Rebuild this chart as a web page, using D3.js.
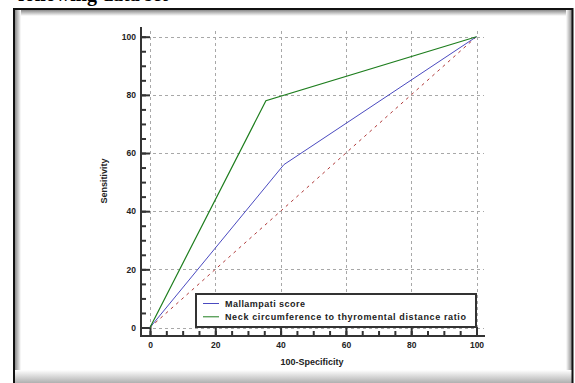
<!DOCTYPE html>
<html><head><meta charset="utf-8">
<script src="https://cdn.jsdelivr.net/npm/d3@7"></script>
<style>body{margin:0;background:#fff;}svg{display:block;}</style>
</head><body>
<svg id="c" width="575" height="383"></svg>
<script>
const mallX = [0, 41, 100];
const mallY = [0, 56, 100];
const neckX = [0, 35.5, 100];
const neckY = [0, 78, 100];
const refX = [0, 100];
const refY = [0, 100];
const majorTicks = [0, 20, 40, 60, 80, 100];
const minorTicks = d3.range(0, 101, 5);
const seriesNames = ["Mallampati score", "Neck circumference to thyromental distance ratio"];
const xTitle = "100-Specificity";
const yTitle = "Sensitivity";
const headText = "following data set";

const svg = d3.select("#c");
const defs = svg.append("defs");
function grad(id, x1, y1, x2, y2, c1, c2) {
  const g = defs.append("linearGradient").attr("id", id)
    .attr("x1", x1).attr("y1", y1).attr("x2", x2).attr("y2", y2);
  g.append("stop").attr("offset", "0").attr("stop-color", c1);
  g.append("stop").attr("offset", "1").attr("stop-color", c2);
}
grad("gt", 0, 0, 0, 1, "#8a8a8a", "#ffffff");
grad("gl", 0, 0, 1, 0, "#8a8a8a", "#ffffff");
grad("gr", 1, 0, 0, 0, "#8a8a8a", "#ffffff");
grad("gb", 0, 1, 0, 0, "#b0b0b0", "#ffffff");

// header text (cut off at the top edge, as in the source image)
svg.append("text").attr("x", 18).attr("y", 0.5)
  .attr("font-family", "Liberation Serif, Times New Roman, serif")
  .attr("font-weight", "bold").attr("font-size", 20)
  .attr("fill", "#000").text(headText);

// frame
svg.append("rect").attr("x", 15).attr("y", 10).attr("width", 557).attr("height", 6).attr("fill", "url(#gt)");
svg.append("rect").attr("x", 15).attr("y", 10).attr("width", 6).attr("height", 380).attr("fill", "url(#gl)");
svg.append("rect").attr("x", 566).attr("y", 10).attr("width", 6).attr("height", 380).attr("fill", "url(#gr)");
svg.append("rect").attr("x", 15).attr("y", 370).attr("width", 557).attr("height", 13).attr("fill", "url(#gb)");
svg.append("rect").attr("x", 14).attr("y", 9).attr("width", 558.5).attr("height", 390)
  .attr("fill", "none").attr("stroke", "#111").attr("stroke-width", 2);

const x = d3.scaleLinear().domain([0, 100]).range([150, 476.5]);
const y = d3.scaleLinear().domain([0, 100]).range([327.5, 36.7]);
const axX = 141, axY = 336;

// grid
const grid = svg.append("g").attr("stroke", "#a8a8a8").attr("stroke-width", 1)
  .attr("stroke-dasharray", "3,3").attr("shape-rendering", "crispEdges");
grid.selectAll(".v").data(majorTicks).join("line")
  .attr("x1", d => Math.round(x(d)) + 0.5).attr("x2", d => Math.round(x(d)) + 0.5)
  .attr("y1", 31).attr("y2", axY);
grid.selectAll(".h").data(majorTicks).join("line")
  .attr("y1", d => Math.round(y(d)) + 0.5).attr("y2", d => Math.round(y(d)) + 0.5)
  .attr("x1", axX).attr("x2", 484);

// axes
const font = "Liberation Sans, Arial, sans-serif";
function styleAxis(g) {
  g.select(".domain").remove();
  g.selectAll("line").attr("stroke", "#333").attr("stroke-width", 2);
  g.selectAll("text").attr("font-family", font).attr("font-weight", "bold")
    .attr("font-size", 8.5).attr("fill", "#222");
}
svg.append("g").attr("transform", `translate(${axX},0)`)
  .call(d3.axisLeft(y).tickValues(minorTicks).tickSize(-5).tickFormat(""))
  .call(styleAxis);
svg.append("g").attr("transform", `translate(${axX},0)`)
  .call(d3.axisLeft(y).tickValues(majorTicks).tickSize(-9).tickPadding(5))
  .call(styleAxis);
svg.append("g").attr("transform", `translate(0,${axY})`)
  .call(d3.axisBottom(x).tickValues(minorTicks).tickSize(-5).tickFormat(""))
  .call(styleAxis);
svg.append("g").attr("transform", `translate(0,${axY})`)
  .call(d3.axisBottom(x).tickValues(majorTicks).tickSize(-9).tickPadding(6))
  .call(styleAxis);
svg.append("line").attr("x1", axX).attr("x2", axX).attr("y1", 27).attr("y2", axY + 1)
  .attr("stroke", "#333").attr("stroke-width", 2);
svg.append("line").attr("x1", axX - 1).attr("x2", 485).attr("y1", axY).attr("y2", axY)
  .attr("stroke", "#333").attr("stroke-width", 2);

// axis titles
svg.append("text").attr("x", 312).attr("y", 365).attr("text-anchor", "middle")
  .attr("font-family", font).attr("font-weight", "bold").attr("font-size", 9)
  .attr("fill", "#222").text(xTitle);
svg.append("text").attr("transform", "translate(107,181) rotate(-90)").attr("text-anchor", "middle")
  .attr("font-family", font).attr("font-weight", "bold").attr("font-size", 9)
  .attr("fill", "#222").text(yTitle);

// curves
const line = d3.line().x(d => x(d[0])).y(d => y(d[1]));
svg.append("path").datum(d3.zip(refX, refY)).attr("d", line)
  .attr("fill", "none").attr("stroke", "#b03a3a").attr("stroke-width", 1)
  .attr("stroke-dasharray", "3,4");
svg.append("path").datum(d3.zip(mallX, mallY)).attr("d", line)
  .attr("fill", "none").attr("stroke", "#4a4ac0").attr("stroke-width", 1);
svg.append("path").datum(d3.zip(neckX, neckY)).attr("d", line)
  .attr("fill", "none").attr("stroke", "#1e7e1e").attr("stroke-width", 1.2);

// legend
const lg = svg.append("g");
lg.append("rect").attr("x", 196).attr("y", 294).attr("width", 280).attr("height", 33)
  .attr("fill", "#fff").attr("stroke", "#333").attr("stroke-width", 2);
const legColors = ["#4a4ac0", "#1e7e1e"];
seriesNames.forEach((n, i) => {
  const yy = 303.5 + i * 13.3;
  lg.append("line").attr("x1", 203).attr("x2", 219).attr("y1", yy).attr("y2", yy)
    .attr("stroke", legColors[i]).attr("stroke-width", 1);
  const t = lg.append("text").attr("x", 225).attr("y", yy + 3).attr("font-family", font)
    .attr("font-weight", "bold").attr("font-size", 9).attr("fill", "#222").text(n);
  if (i === 1) t.attr("textLength", 241).attr("lengthAdjust", "spacing");
  else t.attr("textLength", 80).attr("lengthAdjust", "spacing");
});
</script>
</body></html>
